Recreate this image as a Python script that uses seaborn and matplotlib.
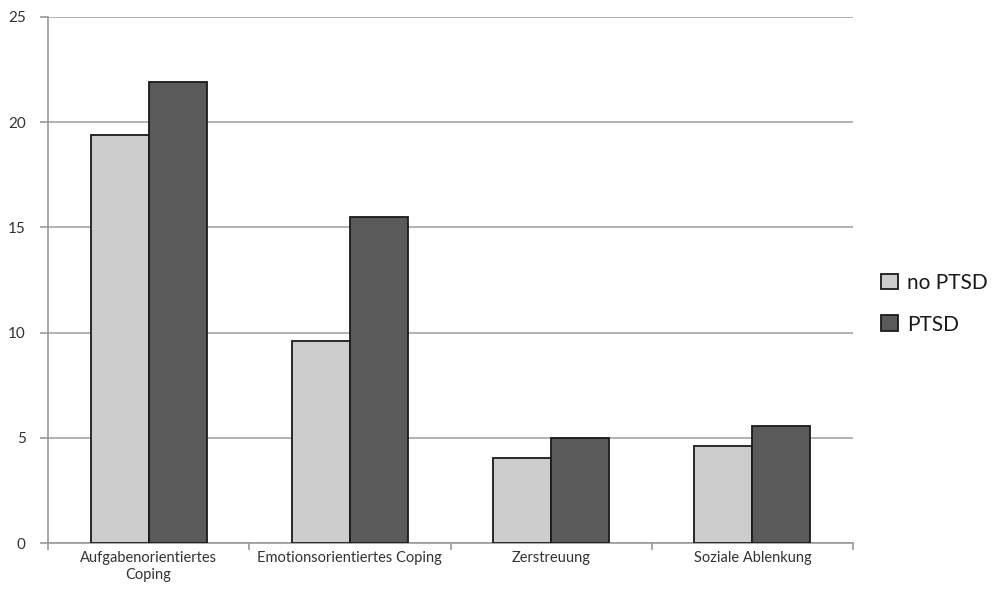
import matplotlib
matplotlib.use("Agg")
import matplotlib.pyplot as plt
import seaborn as sns
import pandas as pd
from matplotlib.ticker import FixedLocator

categories = ["Aufgabenorientiertes\nCoping", "Emotionsorientiertes Coping",
              "Zerstreuung", "Soziale Ablenkung"]
groups = ["no PTSD", "PTSD"]
no_ptsd = [19.4, 9.6, 4.05, 4.6]
ptsd = [21.9, 15.5, 5.0, 5.55]
y_ticks = [0, 5, 10, 15, 20, 25]

df = pd.DataFrame({
    "category": categories * 2,
    "group": [groups[0]] * len(categories) + [groups[1]] * len(categories),
    "value": no_ptsd + ptsd,
})

sns.set_theme(style="white")
plt.rcParams["font.family"] = ["Lato", "DejaVu Sans"]

fig = plt.figure(figsize=(10, 5.96), dpi=100)
ax = fig.add_axes([0.048, 0.0889, 0.805, 0.8826])

palette = {"no PTSD": "#cdcdcd", "PTSD": "#5a5a5a"}
sns.barplot(data=df, x="category", y="value", hue="group", order=categories,
            hue_order=groups, palette=palette, width=0.577, gap=0,
            edgecolor="#1a1a1a", linewidth=1.3, saturation=1, ax=ax, zorder=3)

ax.set_ylim(0, 25)
ax.set_xlim(-0.5, len(categories) - 0.5)
ax.yaxis.set_major_locator(FixedLocator(y_ticks))
ax.set_yticklabels([str(t) for t in y_ticks], fontsize=11, color="#333333")
ax.yaxis.grid(True, color="#a6a6a6", linewidth=1.2, zorder=0)
ax.set_axisbelow(True)

ax.tick_params(axis="x", which="major", length=0, pad=6, labelsize=10.5,
               labelcolor="#333333")
ax.set_xticks([i - 0.5 for i in range(len(categories) + 1)], minor=True)
ax.tick_params(axis="x", which="minor", length=5, width=1.2, color="#999999",
               direction="out", bottom=True)
ax.tick_params(axis="y", length=6, width=1.2, color="#999999", direction="out",
               left=True, pad=10)

ax.set_xlabel("")
ax.set_ylabel("")
for side in ["top", "right"]:
    ax.spines[side].set_visible(False)
for side in ["left", "bottom"]:
    ax.spines[side].set_color("#999999")
    ax.spines[side].set_linewidth(1.2)

ax.legend(loc="center left", bbox_to_anchor=(1.012, 0.455), frameon=False,
          fontsize=15, handlelength=0.8, handleheight=0.8, handletextpad=0.45,
          labelspacing=1.05, labelcolor="#1a1a1a")

fig.savefig("out.png", dpi=100, facecolor="white")
